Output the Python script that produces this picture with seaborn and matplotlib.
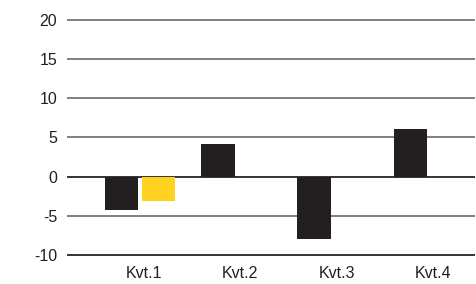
import seaborn as sns
import numpy as np
import pandas as pd
import matplotlib.pyplot as plt
import matplotlib.transforms as mtransforms

quarters = ["Kvt.1", "Kvt.2", "Kvt.3", "Kvt.4"]
series_dark = [-4.3, 4.1, -7.9, 6.1]
series_yellow = [-3.1, np.nan, np.nan, np.nan]
y_ticks = [-10, -5, 0, 5, 10, 15, 20]

df = pd.DataFrame({
    "quarter": quarters * 2,
    "series": ["dark"] * 4 + ["yellow"] * 4,
    "value": series_dark + series_yellow,
})

sns.set_style("white")
plt.rcParams["font.family"] = ["Liberation Sans", "DejaVu Sans"]

fig = plt.figure(figsize=(4.77, 2.84), dpi=100)
ax = fig.add_axes([0.1405, 0.0937, 0.8555, 0.845])

sns.barplot(data=df, x="quarter", y="value", hue="series",
            palette={"dark": "#231f20", "yellow": "#ffd21f"},
            width=0.77, gap=0.1, legend=False, saturation=1,
            linewidth=0, ax=ax, zorder=3)

ax.set_xlim(-0.76, 3.48)
ax.set_ylim(-10.3, 20.3)
ax.set_yticks(y_ticks)
ax.set_yticklabels([str(t) for t in y_ticks])
for t in y_ticks:
    col = "#111111" if t in (0, -10) else "#6a6a6a"
    ax.axhline(t, color=col, lw=1.2, zorder=1)

for s in ax.spines.values():
    s.set_visible(False)
ax.tick_params(axis="both", length=0, labelsize=11.5, colors="#231f20")
ax.tick_params(axis="y", pad=7)
ax.tick_params(axis="x", pad=6)
ax.set_xlabel("")
ax.set_ylabel("")

# labels sit slightly right of group centres
offset = mtransforms.ScaledTranslation(4 / 100, 0, fig.dpi_scale_trans)
for lab in ax.get_xticklabels():
    lab.set_transform(lab.get_transform() + offset)

fig.savefig("out.png", dpi=100)
